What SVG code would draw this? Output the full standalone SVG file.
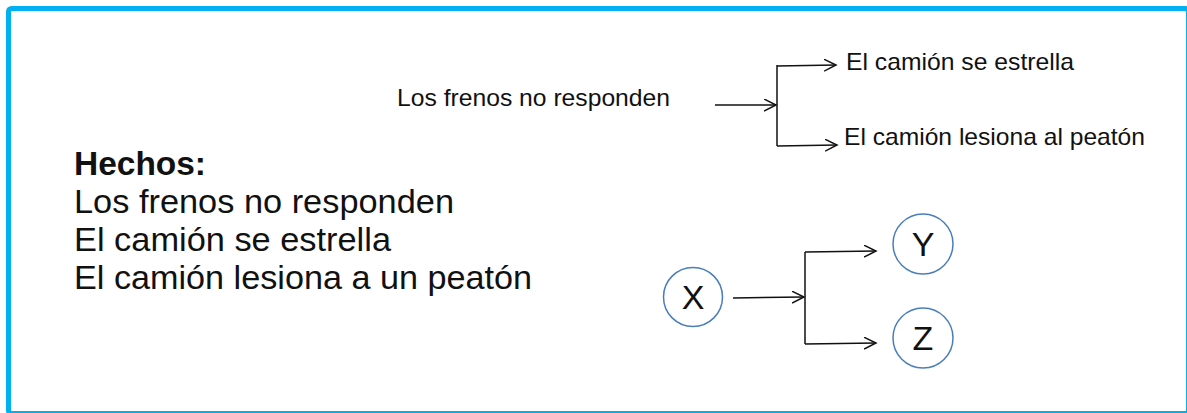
<svg xmlns="http://www.w3.org/2000/svg" width="1187" height="413" viewBox="0 0 1187 413">
<style>
text{font-family:"Liberation Sans",Arial,sans-serif;fill:#111}
.sm{font-size:24px}
.lg{font-size:34px}
.b{font-weight:bold}
.ln{fill:none;stroke:#111;stroke-width:1.5}
.node circle{fill:#fff;stroke:#4a7ebb;stroke-width:1.5}
.node text{font-size:34px;text-anchor:middle}
</style>
<defs>
<marker id="ah" markerWidth="14" markerHeight="14" refX="12" refY="6" orient="auto" markerUnits="userSpaceOnUse">
<path d="M0,0 L12,6 L0,12" fill="none" stroke="#111" stroke-width="1.5"/>
</marker>
</defs>
<rect x="8.5" y="8.5" width="1180" height="405" rx="3" fill="#fff" stroke="#00b0f0" stroke-width="5"/>
<g id="facts">
<text class="lg b" x="74" y="175" textLength="132" lengthAdjust="spacingAndGlyphs">Hechos:</text>
<text class="lg" x="74" y="213" textLength="380" lengthAdjust="spacingAndGlyphs">Los frenos no responden</text>
<text class="lg" x="74" y="251" textLength="317" lengthAdjust="spacingAndGlyphs">El camión se estrella</text>
<text class="lg" x="74" y="289" textLength="458" lengthAdjust="spacingAndGlyphs">El camión lesiona a un peatón</text>
</g>
<g id="n-frenos"><text class="sm" x="397" y="106" textLength="273" lengthAdjust="spacingAndGlyphs">Los frenos no responden</text></g>
<g id="n-estrella"><text class="sm" x="846" y="70" textLength="228" lengthAdjust="spacingAndGlyphs">El camión se estrella</text></g>
<g id="n-lesiona"><text class="sm" x="844" y="145" textLength="301" lengthAdjust="spacingAndGlyphs">El camión lesiona al peatón</text></g>
<g id="n-x" class="node"><circle cx="693" cy="297" r="29.5"/><text x="693" y="309">X</text></g>
<g id="n-y" class="node"><circle cx="923" cy="244" r="30"/><text x="923" y="256">Y</text></g>
<g id="n-z" class="node"><circle cx="923" cy="338" r="30"/><text x="923" y="350">Z</text></g>
<g id="connectors">
<path class="ln" d="M715,105 L776,105" marker-end="url(#ah)"/>
<path class="ln" d="M777,65 L777,146"/>
<path class="ln" d="M777,66 L836,65" marker-end="url(#ah)"/>
<path class="ln" d="M777,146 L837,145" marker-end="url(#ah)"/>
<path class="ln" d="M733,298 L804,297" marker-end="url(#ah)"/>
<path class="ln" d="M805,252 L805,344"/>
<path class="ln" d="M805,252 L876,251" marker-end="url(#ah)"/>
<path class="ln" d="M805,344 L876,343" marker-end="url(#ah)"/>
</g>
</svg>
